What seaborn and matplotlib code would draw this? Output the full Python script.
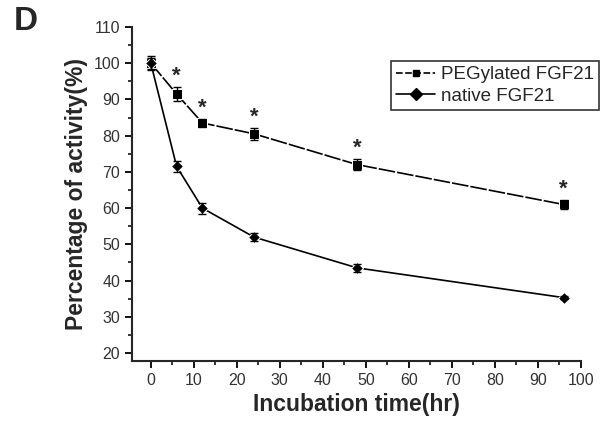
import matplotlib
matplotlib.use("Agg")
import matplotlib.pyplot as plt
import seaborn as sns
import pandas as pd
import numpy as np
from matplotlib.ticker import MultipleLocator
from matplotlib.lines import Line2D

time_hr = [0, 6, 12, 24, 48, 96]
peg_values = [100, 91.5, 83.5, 80.5, 72, 61]
peg_err = [2, 2, 1.2, 1.6, 1.6, 1.3]
native_values = [100, 71.5, 60, 52, 43.5, 35.3]
native_err = [1.5, 1.5, 1.5, 1.0, 1.0, 0.5]
star_times = [6, 12, 24, 48, 96]
series_names = ["PEGylated FGF21", "native FGF21"]

sns.set_style("ticks")
plt.rcParams['font.family'] = ['Arial', 'Liberation Sans', 'DejaVu Sans']

df = pd.DataFrame({
    "time": time_hr * 2,
    "activity": peg_values + native_values,
    "group": [series_names[0]] * len(time_hr) + [series_names[1]] * len(time_hr),
})

fig = plt.figure(figsize=(6.05, 4.21), dpi=100)
ax = fig.add_axes([0.218, 0.1425, 0.742, 0.7935])

sns.lineplot(data=df, x="time", y="activity", hue="group", style="group",
             palette=["black", "black"], markers={series_names[0]: "s", series_names[1]: "D"},
             dashes={series_names[0]: (10, 1.2), series_names[1]: ""},
             markersize=6.5, linewidth=1.2, ax=ax, legend=False)

ax.errorbar(time_hr, peg_values, yerr=peg_err, fmt="none", ecolor="black", elinewidth=1, capsize=3)
ax.errorbar(time_hr, native_values, yerr=native_err, fmt="none", ecolor="black", elinewidth=1, capsize=3)

for t in star_times:
    i = time_hr.index(t)
    ax.annotate("*", (t, peg_values[i] + peg_err[i]), xytext=(0, 0), textcoords="offset points",
                ha="center", va="bottom", fontsize=16, fontweight="bold")

ax.set_xlim(-4.4, 100)
ax.set_ylim(17.8, 110)
ax.xaxis.set_major_locator(MultipleLocator(10))
ax.xaxis.set_minor_locator(MultipleLocator(5))
ax.yaxis.set_major_locator(MultipleLocator(10))
ax.yaxis.set_minor_locator(MultipleLocator(5))
ax.tick_params(which="major", direction="out", length=5, width=1.3, labelsize=11.5,
               colors="black", labelcolor="#333333")
ax.tick_params(which="minor", direction="out", length=3, width=1.3)
sns.despine(ax=ax)
for s in ["left", "bottom"]:
    ax.spines[s].set_linewidth(1.5)

ax.set_xlabel("Incubation time(hr)", fontsize=16.5, fontweight="bold", labelpad=4)
ax.set_ylabel("Percentage of activity(%)", fontsize=16.5, fontweight="bold", labelpad=4)

handles = [Line2D([], [], color="black", marker="s", markersize=5, linestyle=(0, (4, 1.5)), lw=1.2),
           Line2D([], [], color="black", marker="D", markersize=6, linestyle="-", lw=1.2)]
leg = ax.legend(handles, series_names, loc="upper left", bbox_to_anchor=(0.557, 0.925),
                frameon=True, fancybox=False, edgecolor="black", fontsize=13.5,
                handlelength=2.1, handletextpad=0.3, borderpad=0.25, labelspacing=0.25)
leg.get_frame().set_linewidth(1.2)

fig.text(0.022, 0.985, "D", fontsize=24, fontweight="bold", va="top", ha="left")

fig.savefig("out.png", dpi=100)
